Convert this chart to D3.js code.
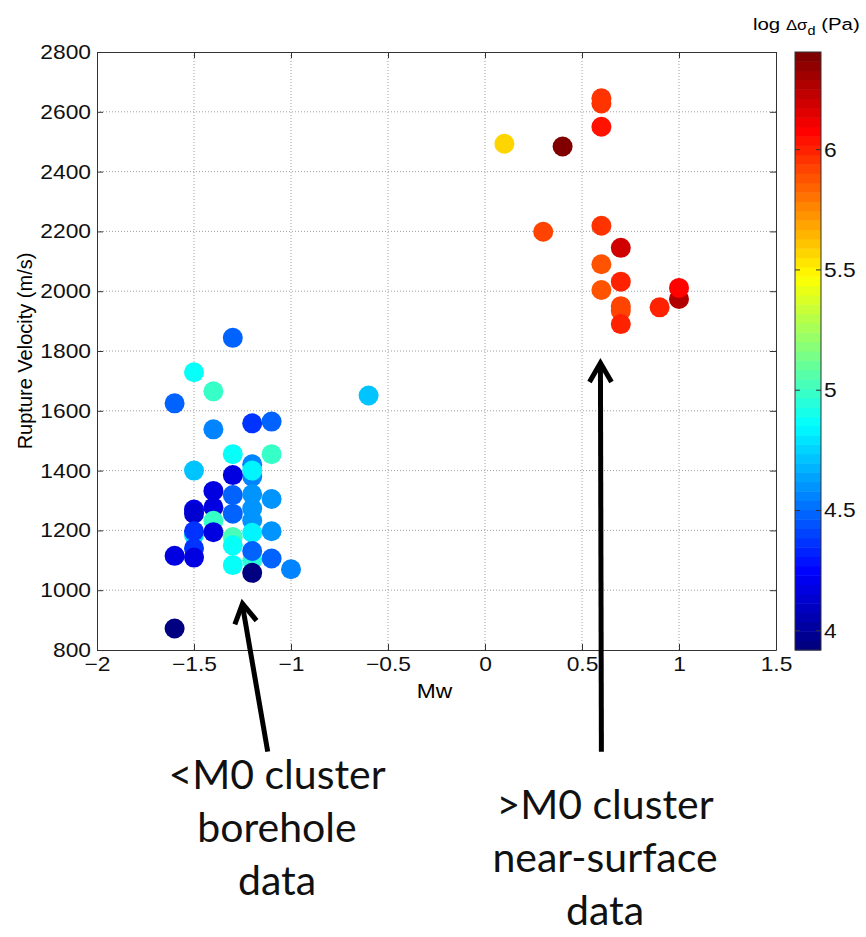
<!DOCTYPE html>
<html>
<head>
<meta charset="utf-8">
<script src="https://cdn.jsdelivr.net/npm/d3@7"></script>
<style>
body { margin: 0; background: #fff; }
</style>
</head>
<body>
<svg id="chart" width="866" height="937" font-family="Liberation Sans, Arial, sans-serif"></svg>
<script>
// moment magnitude, rupture velocity (m/s), log stress drop (Pa)
// drawn in this order, so later points sit on top
const mw = [
    -1.6, -1.3, -1.5, -1.4, -1.6, -1.4, -1.2, -1.1, -1.3, -1.1,
    -1.5, -1.2, -1.2, -1.2, -1.3, -1.4, -1.3, -1.2, -1.1, -1.5,
    -1.5, -1.4, -1.4, -1.3, -1.2, -1.2, -1.5, -1.5, -1.4, -1.3,
    -1.3, -1.2, -1.1, -1.5, -1.6, -1.5, -1.3, -1.2, -1.2, -1.2,
    -1.1, -1.0, -0.6,
    0.6, 0.6, 0.6, 0.1, 0.4, 0.6, 0.3, 0.7, 0.6, 0.7,
    0.6, 1.0, 1.0, 0.7, 0.7, 0.7, 0.9
];
const vr = [
    872, 1844, 1729, 1665, 1625, 1538, 1558, 1564, 1455, 1455,
    1400, 1380, 1421, 1400, 1385, 1332, 1318, 1321, 1305, 1270,
    1256, 1277, 1232, 1256, 1273, 1233, 1185, 1197, 1194, 1178,
    1150, 1192, 1197, 1140, 1115, 1109, 1084, 1100, 1131, 1058,
    1106, 1070, 1651,
    2645, 2628, 2550, 2493, 2484, 2219, 2199, 2145, 2090, 2032,
    2004, 1974, 2011, 1950, 1935, 1890, 1946
];
const stress = [
    3.95, 4.47, 4.86, 5.0, 4.47, 4.57, 4.38, 4.5, 4.86, 5.0,
    4.72, 4.57, 4.57, 4.83, 4.18, 4.18, 4.5, 4.59, 4.59, 4.18,
    4.15, 4.18, 5.0, 4.5, 4.59, 4.59, 4.8, 4.38, 4.18, 5.03,
    4.86, 4.83, 4.59, 4.38, 4.18, 4.18, 4.86, 4.95, 4.5, 3.95,
    4.5, 4.55, 4.72,
    5.96, 5.96, 6.05, 5.58, 6.38, 5.96, 5.93, 6.21, 5.88, 6.0,
    5.88, 6.28, 6.09, 5.93, 5.93, 6.0, 6.0
];

const xTicks = [-2, -1.5, -1, -0.5, 0, 0.5, 1, 1.5];
const yTicks = [800, 1000, 1200, 1400, 1600, 1800, 2000, 2200, 2400, 2600, 2800];
const cTicks = [4, 4.5, 5, 5.5, 6];
const cRange = [3.92, 6.406];

const notesLeft = ["<M0 cluster", "borehole", "data"];
const notesRight = [">M0 cluster", "near-surface", "data"];

let svg = d3.select("#chart");
let stretch = 1.14; // the figure text is drawn wide
let fs = 20;

let x = d3.scaleLinear().domain([-2, 1.5]).range([97, 776]);
let y = d3.scaleLinear().domain([800, 2800]).range([650, 52]);
let cy = d3.scaleLinear().domain(cRange).range([650, 52]);

// matlab jet, 64 colours
function jet(t) {
    let f = v => Math.max(0, Math.min(1, v)) * 255;
    return d3.rgb(f(1.5 - Math.abs(4 * t - 3)), f(1.5 - Math.abs(4 * t - 2)), f(1.5 - Math.abs(4 * t - 1)));
}
let nColors = 64;
function colorOf(v) {
    let i = Math.floor((v - cRange[0]) / (cRange[1] - cRange[0]) * nColors);
    i = Math.max(0, Math.min(nColors - 1, i));
    return jet(i / (nColors - 1));
}

// grid
let grid = svg.append("g")
    .attr("stroke", "#a0a0a0")
    .attr("stroke-dasharray", "1,2")
    .attr("stroke-width", 1);
grid.selectAll(".gx").data(xTicks.slice(1, -1)).enter().append("line")
    .attr("x1", d => x(d)).attr("x2", d => x(d))
    .attr("y1", y(800)).attr("y2", y(2800));
grid.selectAll(".gy").data(yTicks.slice(1, -1)).enter().append("line")
    .attr("x1", x(-2)).attr("x2", x(1.5))
    .attr("y1", d => y(d)).attr("y2", d => y(d));

// axes, ticks pointing in
let xAxis = svg.append("g")
    .attr("transform", `translate(0,${y(800)})`)
    .call(d3.axisBottom(x).tickValues(xTicks).tickSizeInner(-6).tickSizeOuter(0).tickPadding(11).tickFormat(d3.format("")));
svg.append("g")
    .attr("transform", `translate(0,${y(2800)})`)
    .call(d3.axisTop(x).tickValues(xTicks).tickSizeInner(-6).tickSizeOuter(0).tickFormat(""));
let yAxis = svg.append("g")
    .attr("transform", `translate(${x(-2)},0)`)
    .call(d3.axisLeft(y).tickValues(yTicks).tickSizeInner(-6).tickSizeOuter(0).tickFormat(d3.format("d")));
svg.append("g")
    .attr("transform", `translate(${x(1.5)},0)`)
    .call(d3.axisRight(y).tickValues(yTicks).tickSizeInner(-6).tickSizeOuter(0).tickFormat(""));

svg.selectAll(".domain").attr("stroke", "#333");
svg.selectAll(".tick line").attr("stroke", "#333");
svg.selectAll(".tick text").attr("font-family", null);

xAxis.selectAll("text")
    .attr("font-size", fs)
    .attr("fill", "#111")
    .attr("dy", "0.5em")
    .attr("transform", `scale(${stretch},1)`);
yAxis.selectAll("text")
    .attr("font-size", fs)
    .attr("fill", "#111")
    .attr("x", -6 / stretch)
    .attr("transform", `scale(${stretch},1)`);

// axis labels
svg.append("text")
    .attr("transform", `translate(${(x(-2) + x(1.5)) / 2 - 2},698) scale(${stretch},1)`)
    .attr("text-anchor", "middle")
    .attr("font-size", fs)
    .text("Mw");

svg.append("text")
    .attr("transform", `translate(32,${(y(800) + y(2800)) / 2}) rotate(-90)`)
    .attr("text-anchor", "middle")
    .attr("font-size", 20)
    .text("Rupture Velocity (m/s)");

// points
svg.append("g")
    .selectAll("circle")
    .data(mw.map((m, i) => ({ m: m, v: vr[i], s: stress[i] })))
    .enter()
    .append("circle")
    .attr("cx", d => x(d.m))
    .attr("cy", d => y(d.v))
    .attr("r", 10)
    .attr("fill", d => colorOf(d.s));

// colorbar
let cbx = 795, cbw = 26;
let step = (cRange[1] - cRange[0]) / nColors;
svg.append("g")
    .selectAll("rect")
    .data(d3.range(nColors))
    .enter()
    .append("rect")
    .attr("x", cbx)
    .attr("width", cbw)
    .attr("y", i => cy(cRange[0] + (i + 1) * step))
    .attr("height", i => cy(cRange[0] + i * step) - cy(cRange[0] + (i + 1) * step) + 0.5)
    .attr("fill", i => jet(i / (nColors - 1)));

svg.append("rect")
    .attr("x", cbx).attr("y", cy(cRange[1]))
    .attr("width", cbw).attr("height", cy(cRange[0]) - cy(cRange[1]))
    .attr("fill", "none").attr("stroke", "#333");

let cbTicks = svg.append("g");
cbTicks.selectAll(".l").data(cTicks).enter().append("line")
    .attr("x1", cbx).attr("x2", cbx + 5)
    .attr("y1", d => cy(d)).attr("y2", d => cy(d))
    .attr("stroke", "#333");
cbTicks.selectAll(".r").data(cTicks).enter().append("line")
    .attr("x1", cbx + cbw - 5).attr("x2", cbx + cbw)
    .attr("y1", d => cy(d)).attr("y2", d => cy(d))
    .attr("stroke", "#333");
cbTicks.selectAll("text").data(cTicks).enter().append("text")
    .attr("transform", d => `translate(${cbx + cbw + 3},${cy(d)}) scale(${stretch},1)`)
    .attr("dy", "0.35em")
    .attr("font-size", fs)
    .attr("fill", "#111")
    .text(d => d);

let cLabel = svg.append("text")
    .attr("transform", `translate(753,30) scale(1.2,1)`)
    .attr("font-size", 17);
cLabel.append("tspan").text("log ");
cLabel.append("tspan").attr("font-size", 14).text("Δσ");
cLabel.append("tspan").attr("font-size", 12).attr("dy", 5).text("d");
cLabel.append("tspan").attr("dy", -5).text(" (Pa)");

// arrows pointing at the two clusters
let arrows = [
    { from: [-1.12, 460], to: [-1.25, 955] },
    { from: [0.6, 460], to: [0.595, 1760] }
];
let ag = svg.append("g")
    .attr("stroke", "#000")
    .attr("stroke-width", 5)
    .attr("fill", "none");
arrows.forEach(function (a) {
    let x0 = x(a.from[0]), y0 = y(a.from[1]);
    let x1 = x(a.to[0]), y1 = y(a.to[1]);
    let ang = Math.atan2(y1 - y0, x1 - x0);
    let len = 22, spread = Math.PI / 6;
    ag.append("line").attr("x1", x0).attr("y1", y0).attr("x2", x1).attr("y2", y1 + 2);
    ag.append("path")
        .attr("d", `M${x1 - len * Math.cos(ang - spread)},${y1 - len * Math.sin(ang - spread)}L${x1},${y1}L${x1 - len * Math.cos(ang + spread)},${y1 - len * Math.sin(ang + spread)}`);
});

// notes under the chart
function note(lines, cx, top) {
    svg.append("g").selectAll("text")
        .data(lines)
        .enter()
        .append("text")
        .attr("x", cx)
        .attr("y", (d, i) => top + i * 53)
        .attr("text-anchor", "middle")
        .style("font-family", "Lato, 'Open Sans', sans-serif")
        .attr("font-size", 41)
        .attr("fill", "#111")
        .text(d => d);
}
note(notesLeft, 277, 789);
note(notesRight, 605, 819);
</script>
</body>
</html>
